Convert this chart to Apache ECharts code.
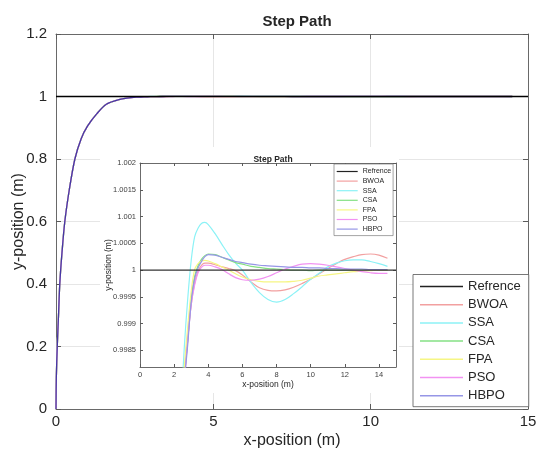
<!DOCTYPE html>
<html><head><meta charset="utf-8">
<script src="https://cdn.jsdelivr.net/npm/echarts@6/dist/echarts.min.js"></script>
<style>html,body{margin:0;padding:0;background:#fff}#c{width:536px;height:454px}</style>
</head><body><div id="c"></div>
<script>
// ---- data ----
const names = ['Refrence', 'BWOA', 'SSA', 'CSA', 'FPA', 'PSO', 'HBPO'];
const refX = [0, 15];
const refY = [1, 1];
// common rise seen in the main plot
const riseX = [0, 0.01, 0.04, 0.08, 0.12, 0.19, 0.28, 0.42, 0.6, 0.8, 1.0, 1.3, 1.6, 2.0];
const riseY = [0, 0.1, 0.2, 0.3, 0.4, 0.5, 0.6, 0.7, 0.8, 0.865, 0.905, 0.945, 0.975, 0.99];
// detail (inset) part
const tailX = [2.4, 2.6, 2.8, 3.0, 3.2, 3.4, 3.6, 3.8, 4.0, 4.4, 4.8, 5.2, 5.6, 6.0, 6.5, 7.0, 7.5, 8.0, 8.5, 9.0, 9.5, 10.0, 10.5, 11.0, 11.5, 12.0, 12.5, 13.0, 13.5, 14.0, 14.5];
const bwoaY = [0.9968, 0.99795, 0.99872, 0.99935, 0.99975, 0.99998, 1.00009, 1.00013, 1.00013, 1.0001, 1.00006, 1.00003, 0.99999, 0.99991, 0.99978, 0.99967, 0.99962, 0.99961, 0.99963, 0.99968, 0.99975, 0.99983, 0.99993, 1.00003, 1.00012, 1.0002, 1.00025, 1.00029, 1.0003, 1.00028, 1.00022];
const ssaY = [0.9974, 0.99858, 0.99948, 1.00018, 1.00062, 1.00078, 1.00087, 1.00089, 1.00085, 1.00068, 1.00048, 1.00029, 1.00013, 1.0, 0.99977, 0.99958, 0.99945, 0.9994, 0.99945, 0.99956, 0.99969, 0.99983, 0.99994, 1.00006, 1.00013, 1.000175, 1.00019, 1.00019, 1.00016, 1.00012, 1.00007];
const csaY = [0.9969, 0.998, 0.9987, 0.99945, 0.99988, 1.00008, 1.0002, 1.00027, 1.0003, 1.00029, 1.00024, 1.00019, 1.00014, 1.00011, 1.00007, 1.00005, 1.00003, 1.00002, 1.00001, 1.0, 1.0, 0.99999, 1.0, 1.0, 1.0, 1.0, 1.0, 1.0, 1.0, 1.0, 1.0];
const fpaY = [0.9971, 0.9982, 0.99895, 0.9996, 1.00001, 1.00012, 1.00017, 1.00018, 1.00017, 1.00012, 1.00006, 1.0, 0.99993, 0.99987, 0.99982, 0.99979, 0.99978, 0.99978, 0.99978, 0.99979, 0.99981, 0.99985, 0.99989, 0.99991, 0.99993, 0.99995, 0.99997, 0.99998, 0.99999, 1.0, 1.0];
const psoY = [0.9968, 0.9979, 0.9987, 0.99935, 0.99972, 0.99995, 1.00005, 1.00009, 1.00009, 1.00006, 1.00001, 0.99993, 0.99986, 0.99982, 0.99981, 0.99983, 0.99988, 0.99995, 1.00002, 1.00007, 1.00011, 1.00012, 1.00011, 1.00009, 1.00006, 1.00003, 1.0, 0.99997, 0.99995, 0.99994, 0.99994];
const hbpoY = [0.9968, 0.9979, 0.99862, 0.9994, 0.99984, 1.00004, 1.00016, 1.00025, 1.00029, 1.00028, 1.00024, 1.0002, 1.00016, 1.00014, 1.00011, 1.00009, 1.00008, 1.00007, 1.00006, 1.00005, 1.00005, 1.00004, 1.00004, 1.00003, 1.00003, 1.00002, 1.00002, 1.00002, 1.00001, 1.00001, 1.00001];
const mainXTicks = [0, 5, 10, 15];
const mainYTicks = [0, 0.2, 0.4, 0.6, 0.8, 1, 1.2];
const insetXTicks = [0, 2, 4, 6, 8, 10, 12, 14];
const insetYTicks = [0.9985, 0.999, 0.9995, 1, 1.0005, 1.001, 1.0015, 1.002];

// ---- styling ----
const FONT = 'Liberation Sans, Arial, sans-serif';
const algY = [bwoaY, ssaY, csaY, fpaY, psoY, hbpoY];
const pastel = ['#f2a0a0', '#8cf2f6', '#84e084', '#f6f684', '#f292f2', '#9696e6'];
const mainCol = ['#f2a0a0', '#8cf2f6', '#84e084', '#f6f684', '#f292f2', '#4637a4'];
const pair = (xs, ys) => xs.map((x, i) => [x, ys[i]]);

const series = [];
// inset series first (legend colours come from them)
series.push({name: names[0], type: 'line', xAxisIndex: 2, yAxisIndex: 2, data: pair(refX, refY),
  symbol: 'none', z: 8, lineStyle: {color: '#333', width: 1.2}, itemStyle: {color: '#222'}});
algY.forEach((ys, k) => series.push({name: names[k + 1], type: 'line', xAxisIndex: 2, yAxisIndex: 2,
  data: pair(tailX, ys), symbol: 'none', smooth: 0.35, z: 7, clip: true,
  lineStyle: {color: pastel[k], width: 1.2}, itemStyle: {color: pastel[k]}}));
// main series
algY.forEach((ys, k) => series.push({name: names[k + 1], type: 'line', xAxisIndex: 0, yAxisIndex: 0,
  data: pair(riseX, riseY).concat(pair(tailX, ys)), symbol: 'none', smooth: 0.3, z: 2,
  lineStyle: {color: mainCol[k], width: 1.3}, itemStyle: {color: mainCol[k]}}));
series.push({name: names[0], type: 'line', xAxisIndex: 0, yAxisIndex: 0, data: pair(refX, refY),
  symbol: 'none', z: 3, lineStyle: {color: '#000', width: 1.6}, itemStyle: {color: '#000'}});

const axCol = '#5a5a5a';
const txtCol = '#262626';
function mirror(pos, grid, min, max, ticks, len, z) {
  return {type: 'value', gridIndex: grid, position: pos, min: min, max: max, z: z,
    axisLine: {show: true, onZero: false, lineStyle: {color: axCol, width: 0.9}},
    axisTick: {show: true, inside: true, length: len, customValues: ticks, lineStyle: {color: axCol}},
    axisLabel: {show: false}, splitLine: {show: false}};
}

const chart = echarts.init(document.getElementById('c'), null, {renderer: 'canvas'});
chart.setOption({
  animation: false,
  backgroundColor: '#fff',
  title: [
    {text: 'Step Path', left: 292, top: 9, textAlign: 'center',
      textStyle: {fontFamily: FONT, fontSize: 15, fontWeight: 'bold', color: txtCol}},
    {text: 'Step Path', left: 268, top: 150, textAlign: 'center', z: 9,
      textStyle: {fontFamily: FONT, fontSize: 8.5, fontWeight: 'bold', color: txtCol}}
  ],
  grid: [
    {left: 56, right: 8, top: 34, bottom: 45, containLabel: false, outerBoundsMode: 'none'},
    {left: 140, right: 140, top: 163, bottom: 87, containLabel: false, outerBoundsMode: 'none', z: 5, show: true,
      backgroundColor: '#fff', borderWidth: 0}
  ],
  graphic: [{type: 'rect', z: 1, shape: {x: 100, y: 147, width: 299, height: 246},
    style: {fill: '#fff'}, silent: true}],
  legend: [
    {left: 413, top: 274.5, orient: 'vertical', icon: 'rect', itemWidth: 43, itemHeight: 1.5, itemGap: 4.2,
      padding: [5, 8, 4, 7], borderColor: '#555', borderWidth: 0.8, backgroundColor: '#fff',
      textStyle: {fontFamily: FONT, fontSize: 13, lineHeight: 14, color: txtCol}, data: names, selectedMode: false},
    {left: 334, top: 164, orient: 'vertical', icon: 'rect', itemWidth: 21, itemHeight: 1.2, itemGap: 2.6, z: 9,
      padding: [4, 2, 3, 2.7], borderColor: '#666', borderWidth: 0.6, backgroundColor: '#fff',
      textStyle: {fontFamily: FONT, fontSize: 7, lineHeight: 7, color: txtCol}, data: names, selectedMode: false}
  ],
  xAxis: [
    {type: 'value', gridIndex: 0, min: 0, max: 15, interval: 5, position: 'bottom',
      name: 'x-position (m)', nameLocation: 'middle', nameGap: 24, nameMoveOverlap: false,
      nameTextStyle: {fontFamily: FONT, fontSize: 16, color: txtCol},
      axisLine: {show: true, onZero: false, lineStyle: {color: axCol, width: 0.9}},
      axisTick: {show: true, inside: true, length: 5, customValues: mainXTicks, lineStyle: {color: axCol}},
      axisLabel: {fontFamily: FONT, fontSize: 15, color: txtCol, margin: 5, customValues: mainXTicks},
      splitLine: {show: true, lineStyle: {color: '#e6e6e6', width: 1}}},
    mirror('top', 0, 0, 15, mainXTicks, 5, 0),
    {type: 'value', gridIndex: 1, min: 0, max: 15, position: 'bottom', z: 6,
      name: 'x-position (m)', nameLocation: 'middle', nameGap: 13, nameMoveOverlap: false,
      nameTextStyle: {fontFamily: FONT, fontSize: 8.5, color: txtCol},
      axisLine: {show: true, onZero: false, lineStyle: {color: axCol, width: 0.9}},
      axisTick: {show: true, inside: true, length: 3, customValues: insetXTicks, lineStyle: {color: axCol}},
      axisLabel: {fontFamily: FONT, fontSize: 7.5, color: '#404040', margin: 4, customValues: insetXTicks},
      splitLine: {show: false}},
    mirror('top', 1, 0, 15, insetXTicks, 3, 6)
  ],
  yAxis: [
    {type: 'value', gridIndex: 0, min: 0, max: 1.2, interval: 0.2, position: 'left',
      name: 'y-position (m)', nameLocation: 'middle', nameGap: 29, nameMoveOverlap: false,
      nameTextStyle: {fontFamily: FONT, fontSize: 16, color: txtCol},
      axisLine: {show: true, onZero: false, lineStyle: {color: axCol, width: 0.9}},
      axisTick: {show: true, inside: true, length: 5, lineStyle: {color: axCol}},
      axisLabel: {fontFamily: FONT, fontSize: 15, color: txtCol, margin: 9},
      splitLine: {show: true, lineStyle: {color: '#e6e6e6', width: 1}}},
    mirror('right', 0, 0, 1.2, mainYTicks, 5, 0),
    {type: 'value', gridIndex: 1, min: 0.99819, max: 1.002, position: 'left', z: 6,
      name: 'y-position (m)', nameLocation: 'middle', nameGap: 27, nameMoveOverlap: false,
      nameTextStyle: {fontFamily: FONT, fontSize: 8.5, color: txtCol},
      axisLine: {show: true, onZero: false, lineStyle: {color: axCol, width: 0.9}},
      axisTick: {show: true, inside: true, length: 3, customValues: insetYTicks, lineStyle: {color: axCol}},
      axisLabel: {fontFamily: FONT, fontSize: 7.5, color: '#404040', margin: 4, customValues: insetYTicks,
        formatter: v => String(+v.toFixed(4))},
      splitLine: {show: false}},
    mirror('right', 1, 0.99819, 1.002, insetYTicks, 3, 6)
  ],
  series: series
});
</script></body></html>
